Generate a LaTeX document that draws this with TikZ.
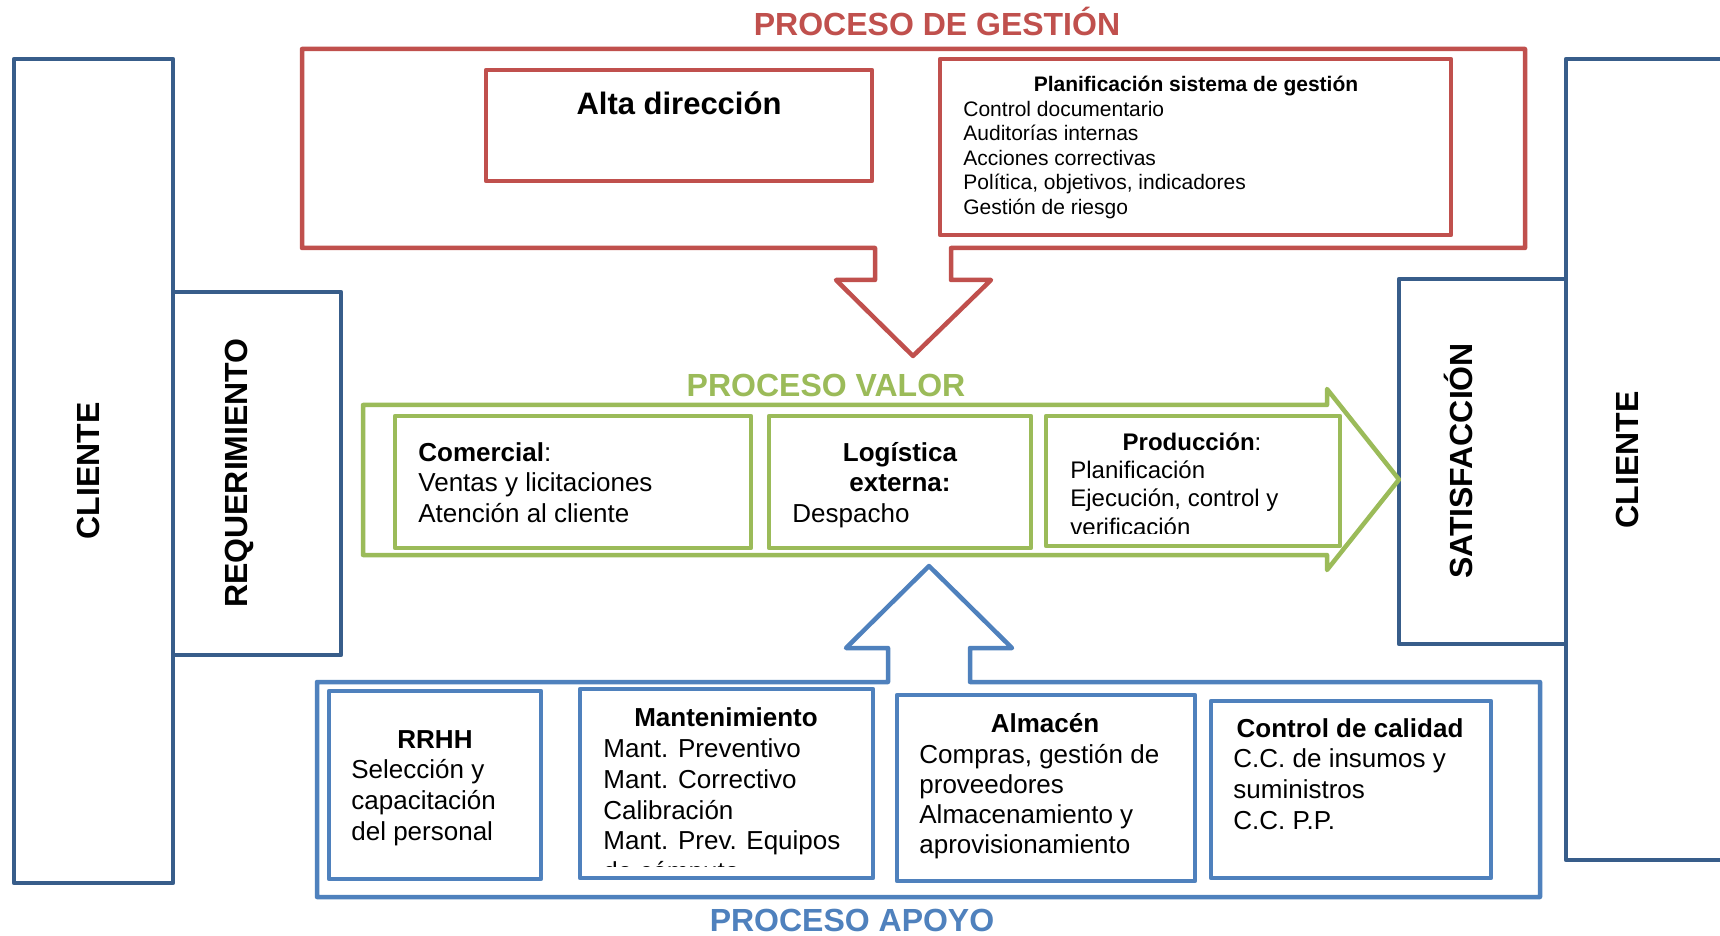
\documentclass[tikz,border=0pt]{standalone}
\usepackage{fontspec}
\setmainfont{Liberation Sans}
\definecolor{cRed}{HTML}{C0504D}
\definecolor{cGreen}{HTML}{9BBB59}
\definecolor{cBlue}{HTML}{4F81BD}
\definecolor{cDark}{HTML}{385D8A}
\tikzset{
  redline/.style={draw=cRed, line width=2.25pt, line join=round},
  greenline/.style={draw=cGreen, line width=2.25pt, line join=round},
  blueline/.style={draw=cBlue, line width=2.25pt, line join=round},
  darkline/.style={draw=cDark, line width=2.25pt, line join=round},
  bigttl/.style={font=\fontsize{16}{19}\selectfont\bfseries, inner sep=0, anchor=base},
  rotttl/.style={font=\fontsize{#1}{19}\selectfont\bfseries, inner sep=0, anchor=base, rotate=90},
  tA/.style={font=\fontsize{10.5}{12}\selectfont, inner sep=0, anchor=base west},
  tAb/.style={font=\fontsize{10.5}{12}\selectfont\bfseries, inner sep=0, anchor=base},
  tB/.style={font=\fontsize{13}{15}\selectfont, inner sep=0, anchor=base west},
  tBb/.style={font=\fontsize{13}{15}\selectfont\bfseries, inner sep=0, anchor=base},
  tC/.style={font=\fontsize{12}{14}\selectfont, inner sep=0, anchor=base west},
  tCb/.style={font=\fontsize{12}{14}\selectfont, inner sep=0, anchor=base},
}
\begin{document}
\begin{tikzpicture}[x=0.5pt,y=-0.5pt]
\clip (0,0) rectangle (1720,936);
\fill[white] (0,0) rectangle (1720,936);

% ---------- side boxes (dark blue)
\draw[darkline] (14,59) rectangle (173,883);
\node[rotttl=16] (cli1) at (99,471) {CLIENTE};
\draw[darkline] (173,292) rectangle (341,655);
\node[rotttl=16] (req) at (247,473) {REQUERIMIENTO};
\draw[darkline] (1399,279) rectangle (1566,644);
\node[rotttl=16] (sat) at (1472,461) {SATISFACCIÓN};
\draw[darkline] (1760,59) -- (1566,59) -- (1566,860) -- (1760,860);
\node[rotttl=16] (cli2) at (1638,460) {CLIENTE};

% ---------- PROCESO DE GESTIÓN
\node[bigttl, text=cRed] (tg) at (937,36) {PROCESO DE GESTIÓN};
\draw[redline] (875,248) -- (302,248) -- (302,49) -- (1525,49) -- (1525,248)
  -- (951,248) -- (951,280) -- (991,280) -- (913,356) -- (836,280) -- (875,280) -- cycle;
\draw[redline] (486,70) rectangle (872,181);
\node[font=\fontsize{15.5}{18}\selectfont\bfseries, inner sep=0, anchor=base] (alta) at (679,115) {Alta dirección};
\draw[redline] (940,59) rectangle (1451,235);
\node[tAb] (plt) at (1196,92) {Planificación sistema de gestión};
\node[tA] (pl1) at (963,116.5) {Control documentario};
\node[tA] (pl2) at (963,141) {Auditorías internas};
\node[tA] (pl3) at (963,165.5) {Acciones correctivas};
\node[tA] (pl4) at (963,190) {Política, objetivos, indicadores};
\node[tA] (pl5) at (963,214.5) {Gestión de riesgo};

% ---------- PROCESO VALOR
\node[bigttl, text=cGreen] (pv) at (826,397) {PROCESO VALOR};
\draw[greenline] (363,405) -- (1327,405) -- (1327,389) -- (1399,479.5) -- (1327,570)
  -- (1327,555) -- (363,555) -- cycle;
\draw[greenline] (395,416) rectangle (751,548);
\draw[greenline] (769,416) rectangle (1031,548);
\draw[greenline] (1046,416) rectangle (1340,546);
\node[tB] (co1) at (418,461) {\textbf{Comercial}:};
\node[tB] (co2) at (418,491) {Ventas y licitaciones};
\node[tB] (co3) at (418,522) {Atención al cliente};
\node[tBb] (lo1) at (900,461) {Logística};
\node[tBb] (lo2) at (900,491) {externa:};
\node[tB] (lo3) at (792,522) {Despacho};
\node[tCb] (pr1) at (1192,451) {\textbf{Producción}:};
\node[tC] (pr2) at (1070,478.5) {Planificación};
\node[tC] (pr3) at (1070,506.5) {Ejecución, control y};
\begin{scope}
\clip (1046,416) rectangle (1340,533);
\node[tC] (pr4) at (1070,535) {verificación};
\end{scope}

% ---------- PROCESO APOYO
\node[bigttl, text=cBlue] (pa) at (852,931) {PROCESO APOYO};
\draw[blueline] (888,682) -- (317,682) -- (317,897) -- (1540,897) -- (1540,682)
  -- (970,682) -- (970,648) -- (1012,648) -- (929,566) -- (846,648) -- (888,648) -- cycle;
\draw[blueline] (329,691) rectangle (541,879);
\draw[blueline] (580,689) rectangle (873,878);
\draw[blueline] (897,695) rectangle (1195,881);
\draw[blueline] (1211,701) rectangle (1491,878);

\node[tBb] (rh0) at (435,748) {RRHH};
\node[tB] (rh1) at (351,778) {Selección y};
\node[tB] (rh2) at (351,809) {capacitación};
\node[tB] (rh3) at (351,840) {del personal};

\node[tBb] (ma0) at (726,726) {Mantenimiento};
\node[tB] (ma1) at (603,757) {Mant. Preventivo};
\node[tB] (ma2) at (603,788) {Mant. Correctivo};
\node[tB] (ma3) at (603,819) {Calibración};
\node[tB] (ma4) at (603,849) {Mant. Prev. Equipos};
\begin{scope}
\clip (580,689) rectangle (873,866);
\node[tB] (ma5) at (603,880) {de cómputo};
\end{scope}

\node[tBb] (al0) at (1045,732) {Almacén};
\node[tB] (al1) at (919,763) {Compras, gestión de};
\node[tB] (al2) at (919,793) {proveedores};
\node[tB] (al3) at (919,823) {Almacenamiento y};
\node[tB] (al4) at (919,853) {aprovisionamiento};

\node[tBb] (cc0) at (1350,737) {Control de calidad};
\node[tB] (cc1) at (1233,767) {C.C. de insumos y};
\node[tB] (cc2) at (1233,798) {suministros};
\node[tB] (cc3) at (1233,829) {C.C. P.P.};
\end{tikzpicture}
\end{document}
